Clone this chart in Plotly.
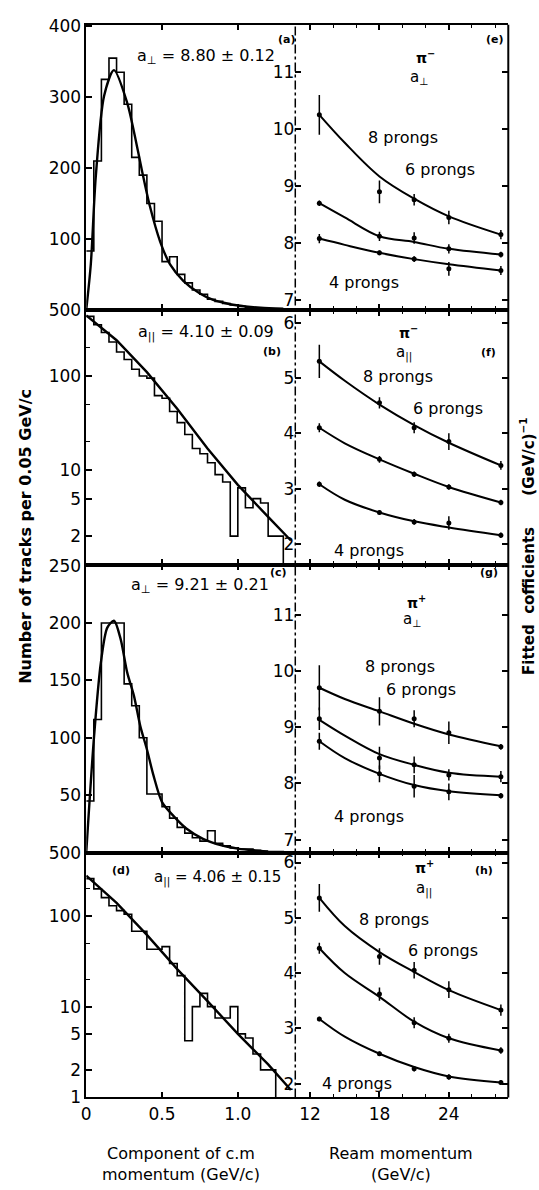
import plotly.graph_objects as go

W, H = 539, 1190
def px(x): return x / W
def py(y): return 1 - y / H

FONT = "DejaVu Sans"

# ---------------- Left column: histograms (bins of 0.05 GeV/c) ----------------
bin_lo = [0.00, 0.05, 0.10, 0.15, 0.20, 0.25, 0.30, 0.35, 0.40, 0.45, 0.50, 0.55, 0.60,
          0.65, 0.70, 0.75, 0.80, 0.85, 0.90, 0.95, 1.00, 1.05, 1.10, 1.15, 1.20, 1.25]

hist_a = [83, 210, 325, 355, 335, 290, 215, 190, 150, 125, 68, 75, 50,
          38, 28, 22, 15, 12, 9, 7, 5, 3, 2, 2, 1, 1]
hist_b = [430, 350, 290, 230, 180, 150, 118, 100, 95, 62, 58, 42, 32,
          24, 17, 15, 12, 9, 7.5, 2, 6.5, 4, 5, 4.5, 2, 2]
hist_c = [45, 116, 200, 200, 200, 147, 128, 100, 51, 51, 40, 30, 22,
          17, 13, 10, 19, 8, 6, 4, 3, 3, 2, 1, 1, 1]
hist_d = [260, 200, 160, 130, 115, 105, 68, 68, 43, 43, 46, 30, 22,
          4.2, 10, 14, 10, 7.5, 7.5, 10, 5, 4.5, 3, 2, 2, 0.5]

# fitted curves
fit_a_x = [0.0, 0.03, 0.063, 0.118, 0.183, 0.27, 0.314, 0.367, 0.42, 0.488, 0.553, 0.64, 0.75, 0.837, 0.95, 1.05, 1.15, 1.3]
fit_a_y = [0, 64, 188, 302, 338, 292, 252, 197, 146, 96, 64, 41, 23, 14, 8, 5, 3, 1.5]
fit_b_x = [0.0, 0.2, 0.4, 0.6, 0.8, 1.0, 1.2, 1.35]
fit_b_y = [440, 240, 110, 45, 17, 7, 3.2, 1.8]
fit_c_x = [0.0, 0.052, 0.096, 0.139, 0.183, 0.227, 0.27, 0.314, 0.357, 0.4, 0.444, 0.5, 0.575, 0.66, 0.77, 0.9, 1.0, 1.1, 1.2]
fit_c_y = [0, 102, 165, 196, 202, 186, 157, 137, 110, 90, 67, 44, 32, 21, 12, 6, 3.5, 2, 1]
fit_d_x = [0.0, 0.2, 0.4, 0.6, 0.8, 1.0, 1.2, 1.35]
fit_d_y = [280, 140, 62, 26, 11.5, 5, 2.3, 1.2]

# ---------------- Right column: fitted coefficients vs beam momentum ----------------
beam = [12.8, 18, 21, 24, 28.5]
curve_x = [12.8, 15, 18, 21, 24, 28.5]

e_pts = {"8": [10.25, 8.9, 8.76, 8.45, 8.15], "6": [8.7, 8.12, 8.09, 7.9, 7.8], "4": [8.08, 7.83, 7.72, 7.55, 7.52]}
e_err = {"8": [0.35, 0.2, 0.1, 0.12, 0.08], "6": [0.05, 0.08, 0.1, 0.08, 0.05], "4": [0.08, 0.04, 0.05, 0.12, 0.08]}
e_fit = {"8": [10.25, 9.76, 9.17, 8.78, 8.47, 8.15], "6": [8.7, 8.45, 8.12, 8.02, 7.9, 7.8], "4": [8.08, 7.97, 7.83, 7.72, 7.63, 7.52]}

f_pts = {"8": [5.3, 4.55, 4.1, 3.85, 3.42], "6": [4.1, 3.53, 3.26, 3.03, 2.75], "4": [3.08, 2.57, 2.4, 2.38, 2.16]}
f_err = {"8": [0.3, 0.1, 0.1, 0.15, 0.08], "6": [0.08, 0.06, 0.05, 0.05, 0.05], "4": [0.05, 0.04, 0.05, 0.12, 0.05]}
f_fit = {"8": [5.3, 4.95, 4.52, 4.15, 3.83, 3.42], "6": [4.1, 3.82, 3.53, 3.27, 3.03, 2.75], "4": [3.08, 2.8, 2.57, 2.41, 2.3, 2.16]}

g_pts = {"8": [9.7, 9.28, 9.15, 8.9, 8.65], "6": [9.15, 8.45, 8.33, 8.15, 8.12], "4": [8.75, 8.17, 7.95, 7.85, 7.78]}
g_err = {"8": [0.4, 0.25, 0.15, 0.2, 0.05], "6": [0.2, 0.2, 0.15, 0.1, 0.1], "4": [0.15, 0.15, 0.2, 0.15, 0.05]}
g_fit = {"8": [9.7, 9.5, 9.28, 9.06, 8.87, 8.66], "6": [9.13, 8.85, 8.52, 8.33, 8.19, 8.12], "4": [8.75, 8.45, 8.17, 7.97, 7.86, 7.79]}

h_pts = {"8": [5.36, 4.3, 4.05, 3.7, 3.33], "6": [4.45, 3.62, 3.1, 2.82, 2.6], "4": [3.17, 2.54, 2.27, 2.12, 2.02]}
h_err = {"8": [0.25, 0.15, 0.15, 0.15, 0.1], "6": [0.1, 0.12, 0.1, 0.08, 0.06], "4": [0.04, 0.04, 0.05, 0.05, 0.04]}
h_fit = {"8": [5.36, 4.85, 4.38, 4.02, 3.69, 3.33], "6": [4.45, 4.0, 3.57, 3.12, 2.82, 2.6], "4": [3.17, 2.85, 2.54, 2.3, 2.13, 2.02]}

# tick values
left_x_ticks = [0, 0.5, 1.0]
left_x_text = ["0", "0.5", "1.0"]
right_x_major = [12, 18, 24]
right_x_minor = [14, 16, 20, 22, 26, 28]
ticks_a = [100, 200, 300, 400]
ticks_b = [2, 5, 10, 100, 500]
minor_b = [20, 50, 200]
ticks_c = [50, 100, 150, 200, 250]
ticks_d = [1, 2, 5, 10, 100, 500]
minor_d = [20, 50, 200]
ticks_e = [7, 8, 9, 10, 11]
ticks_f = [2, 3, 4, 5, 6]

fig = go.Figure()

def step_trace(vals, floor, ax):
    xs = bin_lo + [bin_lo[-1] + 0.05, bin_lo[-1] + 0.05]
    ys = vals + [vals[-1], floor]
    fig.add_trace(go.Scatter(x=xs, y=ys, mode="lines", line=dict(color="black", width=1.6, shape="hv"),
                             xaxis="x" + ax, yaxis="y" + ax, showlegend=False, hoverinfo="skip"))

def fit_trace(xs, ys, ax, spline=True):
    fig.add_trace(go.Scatter(x=xs, y=ys, mode="lines",
                             line=dict(color="black", width=2.4, shape="spline" if spline else "linear", smoothing=0.8),
                             xaxis="x" + ax, yaxis="y" + ax, showlegend=False, hoverinfo="skip"))

# panel axes ids: a=1, e=2, b=3, f=4, c=5, g=6, d=7, h=8
step_trace(hist_a, 0, "")
fit_trace(fit_a_x, fit_a_y, "")
step_trace(hist_b, 0.5, "3")
fit_trace(fit_b_x, fit_b_y, "3", spline=False)
step_trace(hist_c, 0, "5")
fit_trace(fit_c_x, fit_c_y, "5")
step_trace(hist_d, 0.5, "7")
fit_trace(fit_d_x, fit_d_y, "7", spline=False)

def right_panel(pts, err, fit, ax):
    for k in ["8", "6", "4"]:
        fig.add_trace(go.Scatter(x=curve_x, y=fit[k], mode="lines",
                                 line=dict(color="black", width=2, shape="spline", smoothing=1.0),
                                 xaxis="x" + ax, yaxis="y" + ax, showlegend=False, hoverinfo="skip"))
        fig.add_trace(go.Scatter(x=beam, y=pts[k], mode="markers",
                                 marker=dict(color="black", size=5),
                                 error_y=dict(type="data", array=err[k], color="black", thickness=1.5, width=0),
                                 xaxis="x" + ax, yaxis="y" + ax, showlegend=False, hoverinfo="skip"))

right_panel(e_pts, e_err, e_fit, "2")
right_panel(f_pts, f_err, f_fit, "4")
right_panel(g_pts, g_err, g_fit, "6")
right_panel(h_pts, h_err, h_fit, "8")

# ---------------- axes ----------------
tickfont = dict(family=FONT, size=17, color="black")
base = dict(showgrid=False, zeroline=False, ticks="inside", ticklen=6, tickwidth=1.5, tickcolor="black",
            linecolor="black", linewidth=1.5, tickfont=tickfont)
minor_base = dict(ticks="inside", ticklen=4, tickwidth=1.2, tickcolor="black", showgrid=False)

rows = [(15, 305), (305, 564), (564, 857), (857, 1106)]
layout = dict(width=W, height=H, margin=dict(l=0, r=0, t=0, b=0),
              paper_bgcolor="white", plot_bgcolor="white", showlegend=False)

left_x_ids = ["xaxis", "xaxis3", "xaxis5", "xaxis7"]
right_x_ids = ["xaxis2", "xaxis4", "xaxis6", "xaxis8"]
left_y_ids = ["yaxis", "yaxis3", "yaxis5", "yaxis7"]
right_y_ids = ["yaxis2", "yaxis4", "yaxis6", "yaxis8"]
anchors_l = ["x", "x3", "x5", "x7"]
anchors_r = ["x2", "x4", "x6", "x8"]
yanch_l = ["y", "y3", "y5", "y7"]
yanch_r = ["y2", "y4", "y6", "y8"]

left_y_specs = [
    dict(type="linear", range=[0, 402], tickvals=ticks_a),
    dict(type="log", range=[0, 2.702], tickvals=ticks_b, minor=dict(minor_base, tickvals=minor_b)),
    dict(type="linear", range=[0, 251], tickvals=ticks_c),
    dict(type="log", range=[-0.003, 2.702], tickvals=ticks_d, minor=dict(minor_base, tickvals=minor_d)),
]
right_y_specs = [
    dict(range=[6.83, 11.83], tickvals=ticks_e),
    dict(range=[1.63, 6.23], tickvals=ticks_f),
    dict(range=[6.77, 11.89], tickvals=ticks_e),
    dict(range=[1.75, 6.18], tickvals=ticks_f),
]

for i, (top, bot) in enumerate(rows):
    dom_y = [py(bot), py(top)]
    last = i == 3
    lx = dict(base, domain=[px(82), px(293)], range=[0, 1.379], anchor=yanch_l[i],
              showline=True, mirror="ticks", showticklabels=last)
    rx = dict(base, domain=[px(293), px(508)], range=[10.72, 29.14], anchor=yanch_r[i],
              showline=True, mirror="ticks", showticklabels=last,
              minor=dict(minor_base, tickvals=right_x_minor))
    if last:
        lx.update(tickvals=left_x_ticks, ticktext=left_x_text)
        rx.update(tickvals=right_x_major)
    else:
        lx.update(tickvals=left_x_ticks)
        rx.update(tickvals=right_x_major)
    layout[left_x_ids[i]] = lx
    layout[right_x_ids[i]] = rx
    layout[left_y_ids[i]] = dict(base, domain=dom_y, anchor=anchors_l[i], showline=True, mirror=False,
                                 **left_y_specs[i])
    layout[right_y_ids[i]] = dict(base, domain=dom_y, anchor=anchors_r[i], showline=False, mirror="ticks",
                                  **right_y_specs[i])

fig.update_layout(**layout)

# frame lines: dashed separator and solid right border
fig.add_shape(type="line", xref="paper", yref="paper", x0=px(293), x1=px(293), y0=py(1106), y1=py(15),
              line=dict(color="black", width=1.5, dash="dashdot"))
fig.add_shape(type="line", xref="paper", yref="paper", x0=px(508), x1=px(508), y0=py(1106), y1=py(15),
              line=dict(color="black", width=2))

ann = []
def text(x, y, s, size=15, bold=False, angle=0):
    ann.append(dict(x=px(x), y=py(y), xref="paper", yref="paper", text=("<b>%s</b>" % s) if bold else s,
                    showarrow=False, xanchor="center", yanchor="middle", textangle=angle,
                    font=dict(family=FONT, size=size, color="black")))

# left panel fit results
text(203, 47, "a<sub>⊥</sub> = 8.80 ± 0.12", 16)
text(203, 328, "a<sub>||</sub> = 4.10 ± 0.09", 16)
text(197, 585, "a<sub>⊥</sub> = 9.21 ± 0.21", 16)
text(214, 883, "a<sub>||</sub> = 4.06 ± 0.15", 15)

# panel letters
for (x, y, s) in [(284, 30, "(a)"), (270, 347, "(b)"), (276, 572, "(c)"), (117, 875, "(d)"),
                  (495, 30, "(e)"), (488, 348, "(f)"), (489, 572, "(g)"), (483, 875, "(h)")]:
    text(x, y, s, 11, bold=True)

# pion labels
text(424, 48, "π<sup>−</sup>", 14, bold=True)
text(418, 69, "a<sub>⊥</sub>", 15)
text(407, 327, "π<sup>−</sup>", 14, bold=True)
text(403, 349, "a<sub>||</sub>", 15)
text(415, 602, "π<sup>+</sup>", 14, bold=True)
text(411, 620, "a<sub>⊥</sub>", 15)
text(423, 872, "π<sup>+</sup>", 14, bold=True)
text(423, 894, "a<sub>||</sub>", 15)

# prong labels
for (x, y, s) in [(402, 130, "8 prongs"), (439, 162, "6 prongs"), (362, 277, "4 prongs"),
                  (397, 373, "8 prongs"), (447, 405, "6 prongs"), (367, 550, "4 prongs"),
                  (399, 668, "8 prongs"), (420, 691, "6 prongs"), (367, 820, "4 prongs"),
                  (393, 925, "8 prongs"), (442, 957, "6 prongs"), (355, 1092, "4 prongs")]:
    text(x, y, s, 16)

# axis titles
text(20, 535, "Number of tracks per 0.05 GeV/c", 16, bold=True, angle=-90)
text(527, 545, "Fitted  cofficients      (GeV/c)<sup>−1</sup>", 15, bold=True, angle=-90)
text(178, 1174, "Component of c.m<br>momentum (GeV/c)", 16)
text(400, 1174, "Ream momentum<br>(GeV/c)", 16)

fig.update_layout(annotations=ann)
fig.write_html("out.html")
